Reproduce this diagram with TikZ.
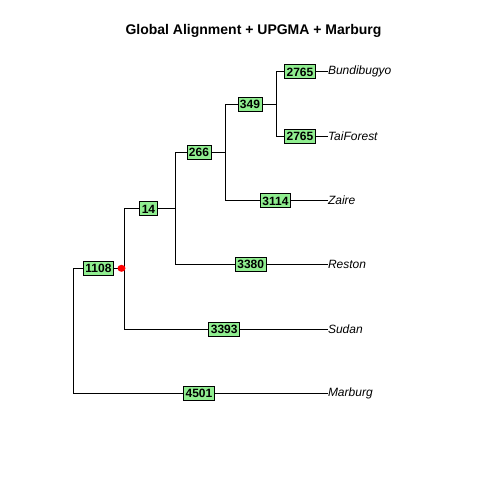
\documentclass[tikz,border=0pt]{standalone}
\usepackage{fontspec}
\setmainfont{Liberation Sans}
\usetikzlibrary{positioning,shapes.geometric}
\definecolor{lightgreen}{RGB}{144,238,144}

\begin{document}
\begin{tikzpicture}[x=1pt, y=-1pt, line width=1pt,
     every node/.style={font=\fontsize{12}{14}\selectfont},
     dist/.style={draw=black, fill=lightgreen, line width=0.8pt, inner xsep=2pt, inner ysep=0pt,
                  minimum height=14pt, text height=9pt, text depth=0pt, font=\fontsize{12}{14}\selectfont\bfseries},
     taxon/.style={anchor=west, inner sep=0pt, font=\fontsize{12}{14}\selectfont\itshape},
     dot/.style={ellipse, fill=red, inner sep=0pt, minimum width=8pt, minimum height=7pt}]

   \useasboundingbox (0,0) rectangle (480,480);
   \node (title) at (253.5,31) {\fontsize{14}{16}\selectfont\bfseries Global Alignment + UPGMA + Marburg};

   % branch points
   \coordinate (r)  at (73.3,268.3);
   \coordinate (rm) at (73.3,393.3);
   \coordinate (a)  at (124.3,268.3);
   \coordinate (at) at (124.3,208.7);
   \coordinate (ab) at (124.3,329.3);
   \coordinate (b)  at (175.3,208.7);
   \coordinate (bt) at (175.3,152.3);
   \coordinate (bb) at (175.3,264.3);
   \coordinate (c)  at (225.3,152.3);
   \coordinate (ct) at (225.3,104);
   \coordinate (cb) at (225.3,200.7);
   \coordinate (d)  at (276.3,104);
   \coordinate (dt) at (276.3,71.7);
   \coordinate (db) at (276.3,136.7);

   % tips
   \node[taxon] (bundi)  at (327.5,71.7)  {Bundibugyo};
   \node[taxon] (tai)    at (327.5,136.7) {TaiForest};
   \node[taxon] (zaire)  at (327.5,200.7) {Zaire};
   \node[taxon] (reston) at (327.5,264.3) {Reston};
   \node[taxon] (sudan)  at (327.5,329.3) {Sudan};
   \node[taxon] (marb)   at (327.5,393.3) {Marburg};

   \draw (r) -- (rm) -- (marb.west);
   \draw (r) -- (a);
   \draw (at) -- (ab) -- (sudan.west);
   \draw (at) -- (b);
   \draw (bt) -- (bb) -- (reston.west);
   \draw (bt) -- (c);
   \draw (ct) -- (cb) -- (zaire.west);
   \draw (ct) -- (d);
   \draw (dt) -- (db) -- (tai.west);
   \draw (dt) -- (bundi.west);

   % distances
   \node[dist] (l1108) at (98.5,268.3)  {1108};
   \node[dist] (l14)   at (148.5,208.7) {14};
   \node[dist] (l266)  at (199,152.3)   {266};
   \node[dist] (l349)  at (250,104)     {349};
   \node[dist] (l2765a) at (300,71.7)   {2765};
   \node[dist] (l2765b) at (300,136.2)  {2765};
   \node[dist] (l3114) at (275.5,200.5) {3114};
   \node[dist] (l3380) at (250.7,264.3) {3380};
   \node[dist] (l3393) at (224.2,329.3) {3393};
   \node[dist] (l4501) at (199,393.3)   {4501};

   \node[dot] (mark) at (121.5,268.3) {};
\end{tikzpicture}
\end{document}
